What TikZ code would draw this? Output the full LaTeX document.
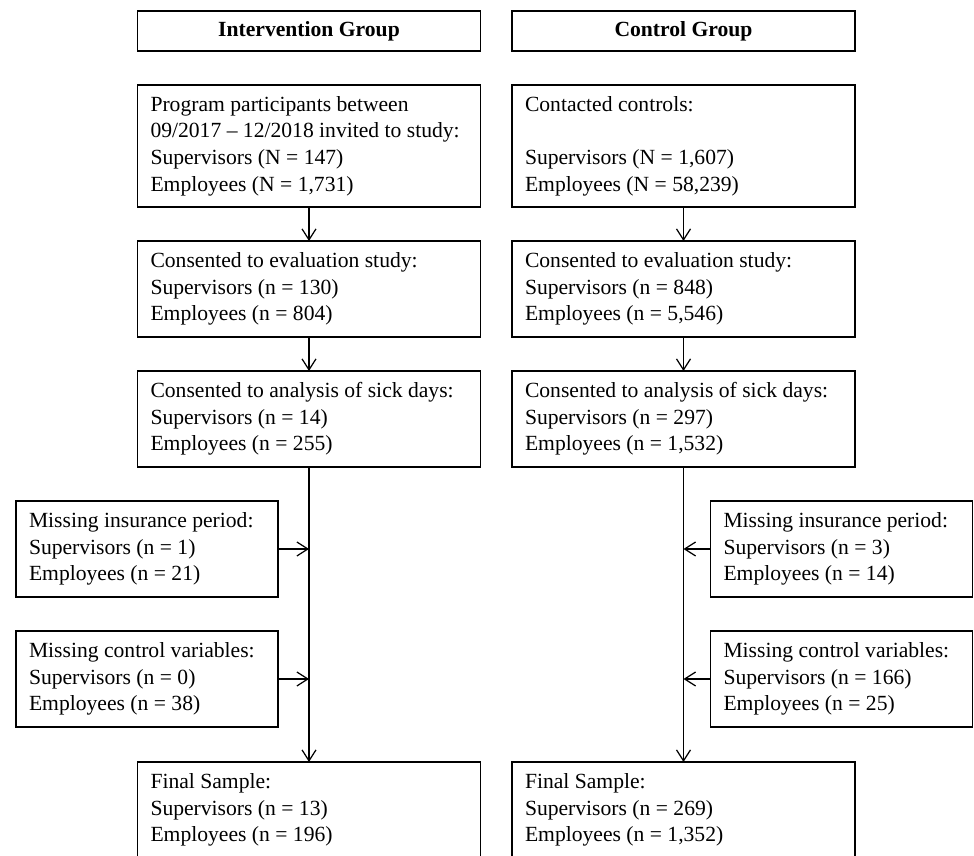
\documentclass[tikz,border=0pt]{standalone}
\usepackage{fontspec}
\setmainfont{Liberation Serif}
\usetikzlibrary{positioning,arrows.meta}
\tikzset{
  box/.style={draw=black, line width=0.7pt, text width=6.34cm, inner xsep=0.26cm,
    inner ysep=0pt, outer sep=0pt, align=left, minimum height=1.92cm,
    font=\fontsize{12.3}{15.2}\selectfont,
    execute at begin node={\spaceskip=0.25em\xspaceskip=0.25em\relax}},
  tallbox/.style={box, minimum height=2.44cm},
  sidebox/.style={box, text width=4.72cm},
  hdrbox/.style={box, align=center, minimum height=0.8cm,
    font=\fontsize{12.3}{15.2}\selectfont\bfseries},
  arr/.style={-{Straight Barb[length=2.2mm,width=2.8mm]}, line width=0.7pt}
}
\begin{document}
\begin{tikzpicture}
\useasboundingbox (0,0) rectangle (19.48,17.12);
% Headers
\node[hdrbox] (hdrL) at (6.18,16.5) {Intervention Group};
\node[hdrbox] (hdrR) at (13.67,16.5) {Control Group};
% Intervention column
\node[tallbox, below=0.68cm of hdrL] (invL) {Program participants between\\ 09/2017 -- 12/2018 invited to study:\\ Supervisors (N = 147)\\ Employees (N = 1,731)};
\node[box, below=0.68cm of invL] (evalL) {Consented to evaluation study:\\ Supervisors (n = 130)\\ Employees (n = 804)};
\node[box, below=0.68cm of evalL] (sickL) {Consented to analysis of sick days:\\ Supervisors (n = 14)\\ Employees (n = 255)};
\node[sidebox, anchor=north east] (insL) at ([xshift=-0.62cm, yshift=-0.68cm]sickL.south) {Missing insurance period:\\ Supervisors (n = 1)\\ Employees (n = 21)};
\node[sidebox, below=0.68cm of insL] (varL) {Missing control variables:\\ Supervisors (n = 0)\\ Employees (n = 38)};
\node[box, anchor=north] (finL) at ([yshift=-0.7cm]sickL.south |- varL.south) {Final Sample:\\ Supervisors (n = 13)\\ Employees (n = 196)};
% Control column
\node[tallbox, below=0.68cm of hdrR] (invR) {Contacted controls:\\[\baselineskip] Supervisors (N = 1,607)\\ Employees (N = 58,239)};
\node[box, below=0.68cm of invR] (evalR) {Consented to evaluation study:\\ Supervisors (n = 848)\\ Employees (n = 5,546)};
\node[box, below=0.68cm of evalR] (sickR) {Consented to analysis of sick days:\\ Supervisors (n = 297)\\ Employees (n = 1,532)};
\node[sidebox, anchor=north west] (insR) at ([xshift=0.54cm, yshift=-0.68cm]sickR.south) {Missing insurance period:\\ Supervisors (n = 3)\\ Employees (n = 14)};
\node[sidebox, below=0.68cm of insR] (varR) {Missing control variables:\\ Supervisors (n = 166)\\ Employees (n = 25)};
\node[box, anchor=north] (finR) at ([yshift=-0.7cm]sickR.south |- varR.south) {Final Sample:\\ Supervisors (n = 269)\\ Employees (n = 1,352)};
% Arrows
\draw[arr] (invL) -- (evalL);
\draw[arr] (evalL) -- (sickL);
\draw[arr] (sickL) -- (finL);
\draw[arr] (insL.east) -- (insL.east -| sickL.south);
\draw[arr] (varL.east) -- (varL.east -| sickL.south);
\draw[arr] (invR) -- (evalR);
\draw[arr] (evalR) -- (sickR);
\draw[arr] (sickR) -- (finR);
\draw[arr] (insR.west) -- (insR.west -| sickR.south);
\draw[arr] (varR.west) -- (varR.west -| sickR.south);
\end{tikzpicture}
\end{document}
